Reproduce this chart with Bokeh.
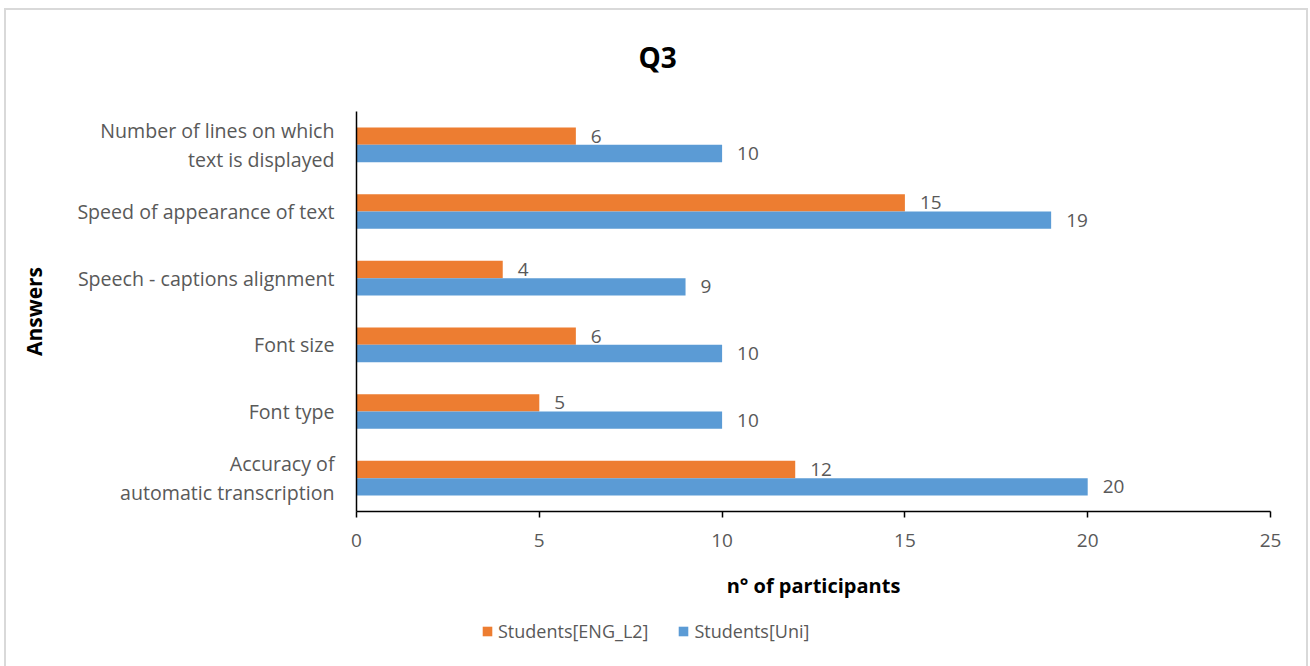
from bokeh.plotting import figure
from bokeh.layouts import column
from bokeh.models import (FactorRange, Range1d, Legend, LegendItem, ColumnDataSource, FixedTicker)
from bokeh.transform import dodge
from bokeh.core.properties import value
from bokeh.embed import file_html
from bokeh.resources import INLINE

# ---- data (bottom to top, as Excel lists them) ----
categories = [
    "Accuracy of\nautomatic transcription",
    "Font type",
    "Font size",
    "Speech - captions alignment",
    "Speed of appearance of text",
    "Number of lines on which\ntext is displayed",
]
eng_l2 = [12, 5, 6, 4, 15, 6]
uni = [20, 10, 10, 9, 19, 10]
series_names = ["Students[ENG_L2]", "Students[Uni]"]
x_ticks = [0, 5, 10, 15, 20, 25]
title_text = "Q3"
x_title = "n° of participants"
y_title = "Answers"

FONT = "Open Sans"
GRAY = "#595959"
ORANGE = "#ED7D31"
BLUE = "#5B9BD5"
BORDER = "#D9D9D9"

src = ColumnDataSource(dict(
    cat=categories,
    eng=eng_l2,
    uni=uni,
    eng_lbl=[str(v) for v in eng_l2],
    uni_lbl=[str(v) for v in uni],
))

p = figure(width=1310, height=610,
           y_range=FactorRange(factors=categories, range_padding=0),
           x_range=Range1d(0, 25),
           output_backend="svg", toolbar_location=None,
           min_border_left=356, min_border_right=40,
           min_border_top=109, min_border_bottom=99)

p.background_fill_color = "white"
p.border_fill_color = None
p.outline_line_color = None
p.xgrid.grid_line_color = None
p.ygrid.grid_line_color = None

r_eng = p.hbar(y=dodge("cat", 0.13, range=p.y_range), right="eng", left=0, height=0.26,
               fill_color=ORANGE, line_color=None, source=src)
r_uni = p.hbar(y=dodge("cat", -0.13, range=p.y_range), right="uni", left=0, height=0.26,
               fill_color=BLUE, line_color=None, source=src)

p.text(x="eng", y=dodge("cat", 0.13, range=p.y_range), text="eng_lbl", x_offset=15,
       text_baseline="middle", text_align="left", text_font=value(FONT),
       text_font_size="19px", text_color=GRAY, source=src)
p.text(x="uni", y=dodge("cat", -0.13, range=p.y_range), text="uni_lbl", x_offset=15,
       text_baseline="middle", text_align="left", text_font=value(FONT),
       text_font_size="19px", text_color=GRAY, source=src)

# x axis
xa = p.xaxis[0]
xa.ticker = FixedTicker(ticks=x_ticks)
xa.axis_line_color = "black"
xa.axis_line_width = 1.5
xa.major_tick_line_color = "black"
xa.major_tick_line_width = 1.5
xa.major_tick_out = 6
xa.major_tick_in = 0
xa.minor_tick_line_color = None
xa.major_label_text_font = FONT
xa.major_label_text_font_size = "19px"
xa.major_label_text_color = GRAY
xa.major_label_standoff = 16
xa.axis_label = x_title
xa.axis_label_text_font = FONT
xa.axis_label_text_font_style = "bold"
xa.axis_label_text_font_size = "20px"
xa.axis_label_text_color = "black"
xa.axis_label_standoff = 22

# y axis
ya = p.yaxis[0]
ya.axis_line_color = "black"
ya.axis_line_width = 1.5
ya.major_tick_line_color = None
ya.minor_tick_line_color = None
ya.major_label_text_font = FONT
ya.major_label_text_font_size = "19.6px"
ya.major_label_text_color = GRAY
ya.major_label_text_line_height = 1.07
ya.major_label_standoff = 16
ya.axis_label = y_title
ya.axis_label_text_font = FONT
ya.axis_label_text_font_style = "bold"
ya.axis_label_text_font_size = "21px"
ya.axis_label_text_color = "black"
ya.axis_label_standoff = 26

# title
p.title.text = title_text
p.title.text_font = FONT
p.title.text_font_size = "28px"
p.title.text_font_style = "bold"
p.title.text_color = "black"
p.title.align = "left"
p.title.offset = 282
p.title.standoff = 71

# legend strip below the chart; its bars have zero height and lie off-range,
# so only the legend shows
q = figure(width=1310, height=56,
           y_range=FactorRange(factors=categories), x_range=Range1d(1000, 1001),
           output_backend="svg", toolbar_location=None,
           min_border_left=0, min_border_right=0, min_border_top=0, min_border_bottom=0)
q.axis.visible = False
q.grid.visible = False
q.outline_line_color = None
q.background_fill_color = None
q.border_fill_color = None
g_eng = q.hbar(y="cat", right="eng", left=0, height=0, fill_color=ORANGE, line_color=None, source=src)
g_uni = q.hbar(y="cat", right="uni", left=0, height=0, fill_color=BLUE, line_color=None, source=src)

legend = Legend(items=[LegendItem(label=series_names[0], renderers=[g_eng]),
                       LegendItem(label=series_names[1], renderers=[g_uni])],
                location=(125, 23), orientation="horizontal",
                glyph_width=12, glyph_height=12, label_standoff=5, spacing=29,
                padding=0, margin=0, border_line_color=None,
                background_fill_alpha=0,
                label_text_font=FONT, label_text_font_size="18px", label_text_color=GRAY)
q.add_layout(legend, "center")

layout = column(p, q, spacing=0)
# outer chart border drawn with CSS (left, top, right lines)
grad = "linear-gradient(%s,%s)" % (BORDER, BORDER)
layout.styles = {
    "background-color": "white",
    "background-image": ", ".join([grad, grad, grad]),
    "background-position": "4px 8px, 4px 8px, 1306px 8px",
    "background-size": "2px 100%, 1304px 2px, 2px 100%",
    "background-repeat": "no-repeat",
}

open("out.html", "w").write(file_html(layout, INLINE))
